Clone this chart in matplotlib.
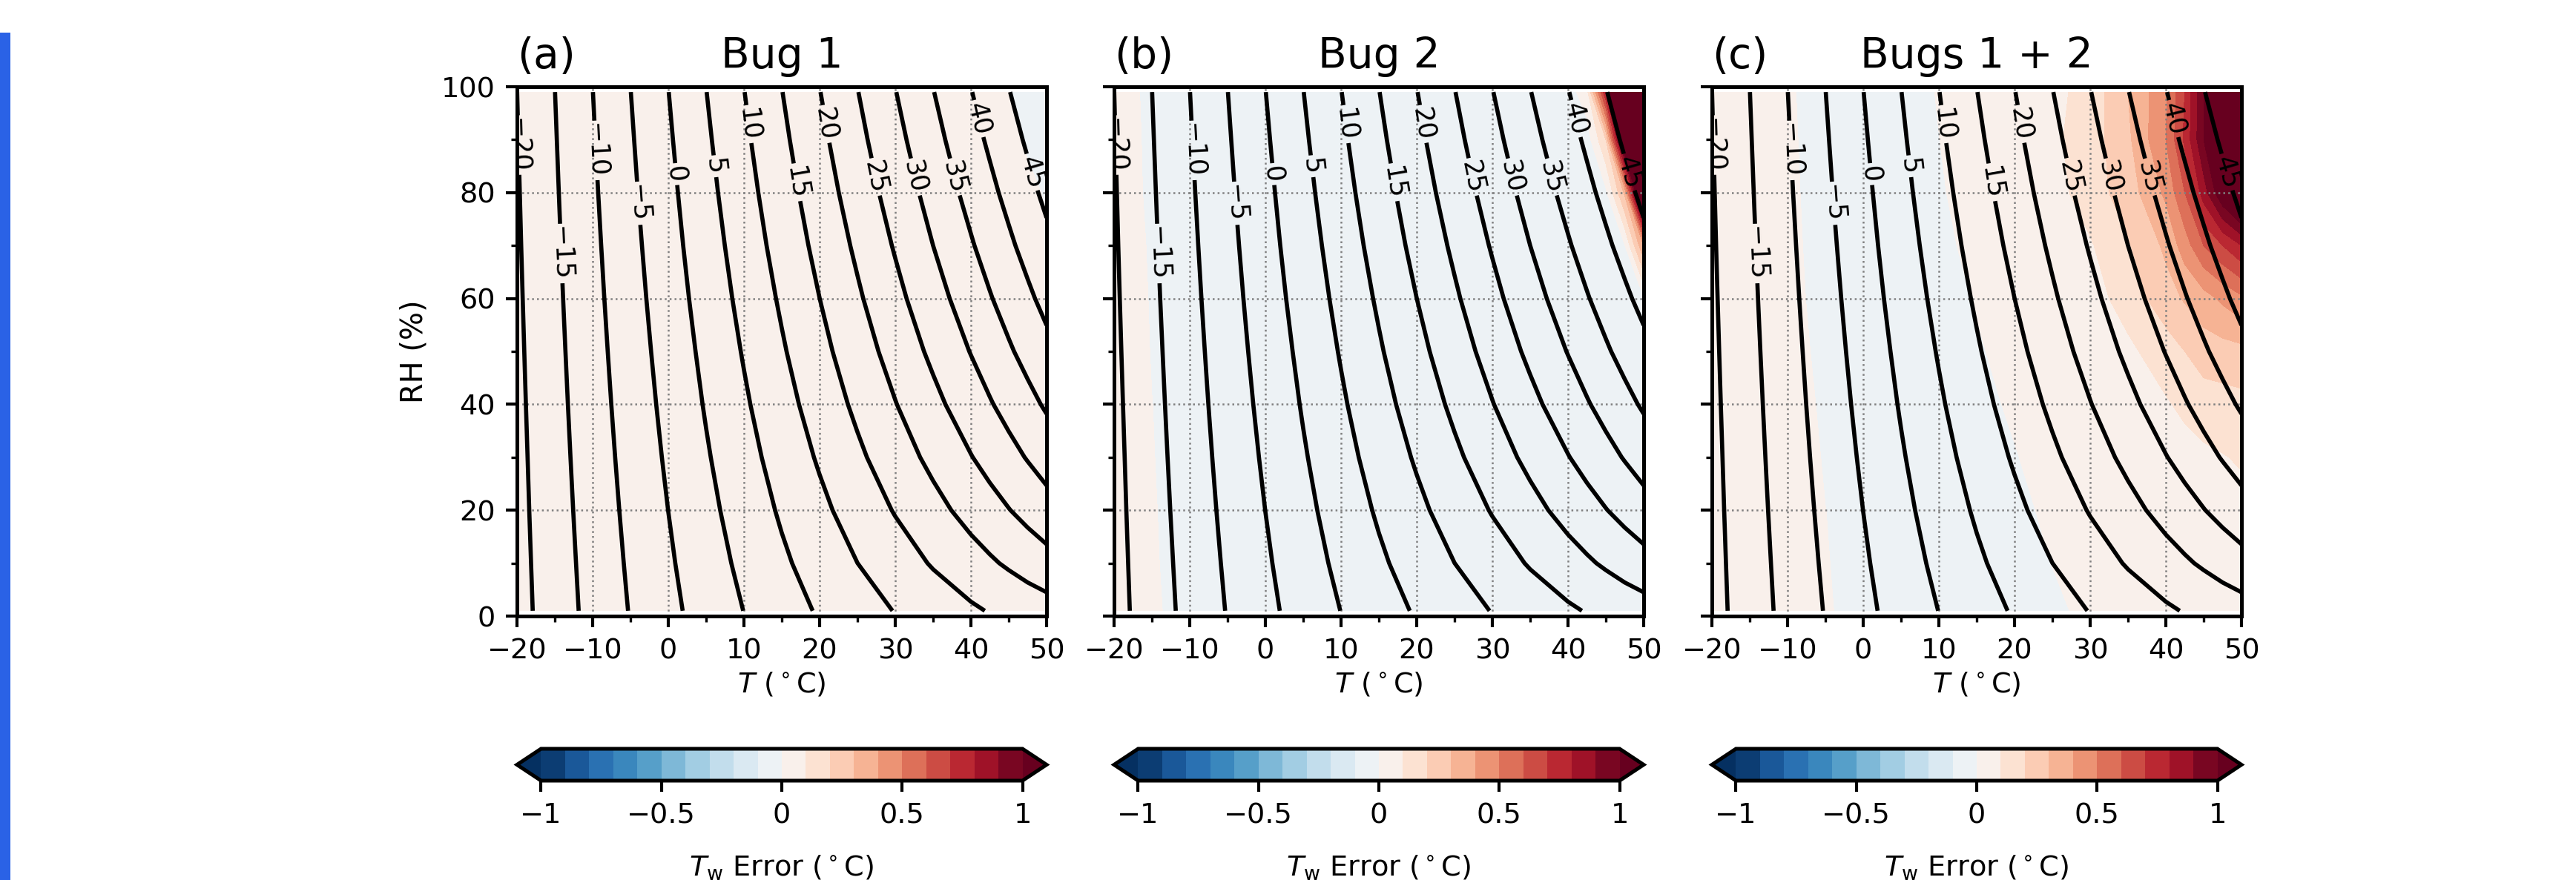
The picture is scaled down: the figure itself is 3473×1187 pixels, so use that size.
import numpy as np
import matplotlib
matplotlib.use('Agg')
from matplotlib import pyplot as plt
from matplotlib.patches import Rectangle
from matplotlib.ticker import MultipleLocator

# grid of the fields: air temperature (deg C) and relative humidity (%)
temp = [-20, -15, -10, -5, 0, 5, 10, 15, 20, 25, 30, 35, 40, 42.5, 45, 47.5, 50]
rh = [1, 10, 20, 30, 40, 50, 60, 70, 80, 90, 99]

# wet-bulb temperature (deg C), one row per RH value
tw = [
    [-21.76, -17.53, -13.52, -9.76, -6.24, -2.98, 0.06, 2.87, 5.48, 7.90, 10.17, 12.30, 14.28, 15.26, 16.15, 17.10, 17.92],
    [-21.60, -17.30, -13.20, -9.31, -5.64, -2.17, 1.09, 4.20, 7.14, 9.99, 12.72, 15.40, 18.05, 19.35, 20.66, 21.98, 23.27],
    [-21.42, -17.04, -12.84, -8.81, -4.98, -1.31, 2.21, 5.60, 8.89, 12.12, 15.30, 18.47, 21.66, 23.25, 24.85, 26.47, 28.11],
    [-21.25, -16.79, -12.47, -8.32, -4.32, -0.46, 3.29, 6.94, 10.54, 14.11, 17.66, 21.22, 24.82, 26.63, 28.46, 30.30, 32.15],
    [-21.07, -16.53, -12.11, -7.83, -3.67, 0.38, 4.34, 8.24, 12.11, 15.97, 19.83, 23.72, 27.64, 29.62, 31.61, 33.61, 35.62],
    [-20.89, -16.27, -11.76, -7.35, -3.04, 1.18, 5.35, 9.48, 13.59, 17.70, 21.83, 26.00, 30.18, 32.29, 34.40, 36.53, 38.66],
    [-20.71, -16.01, -11.40, -6.87, -2.41, 1.99, 6.34, 10.66, 14.99, 19.33, 23.69, 28.07, 32.47, 34.68, 36.90, 39.13, 41.37],
    [-20.53, -15.76, -11.05, -6.40, -1.79, 2.76, 7.29, 11.82, 16.33, 20.86, 25.41, 30.00, 34.57, 36.87, 39.18, 41.50, 43.83],
    [-20.36, -15.51, -10.70, -5.92, -1.20, 3.52, 8.22, 12.91, 17.61, 22.32, 27.03, 31.77, 36.51, 38.89, 41.27, 43.66, 46.06],
    [-20.18, -15.26, -10.35, -5.47, -0.60, 4.27, 9.11, 13.98, 18.82, 23.69, 28.55, 33.43, 38.31, 40.75, 43.19, 45.65, 48.10],
    [-20.02, -15.03, -10.04, -5.05, -0.06, 4.93, 9.91, 14.90, 19.88, 24.87, 29.86, 34.86, 39.83, 42.32, 44.82, 47.30, 49.81],
]

# Tw error (deg C) for each case, same grid
err_bug1 = [
    [0.05] * 17,
    [0.05] * 17,
    [0.05] * 17,
    [0.05] * 17,
    [0.05] * 17,
    [0.05] * 17,
    [0.05] * 17,
    [0.05] * 16 + [0.03],
    [0.05] * 16 + [-0.02],
    [0.05] * 15 + [-0.03, -0.05],
    [0.05] * 14 + [0.01, -0.05, -0.05],
]

err_bug2 = [
    [0.05, 0.025, -0.065] + [-0.05] * 14,
    [0.05, 0.018, -0.072] + [-0.05] * 14,
    [0.05, 0.013, -0.077] + [-0.05] * 14,
    [0.05, 0.007, -0.083] + [-0.05] * 14,
    [0.05, 0.001, -0.05] + [-0.05] * 14,
    [0.085, -0.005, -0.05] + [-0.05] * 14,
    [0.081, -0.009, -0.05] + [-0.05] * 13 + [-0.01],
    [0.076, -0.014, -0.05] + [-0.05] * 12 + [-0.005, 0.40],
    [0.068, -0.022, -0.05] + [-0.05] * 11 + [-0.02, 0.32, 1.5],
    [0.065, -0.025, -0.05] + [-0.05] * 11 + [0.20, 1.25, 2.5],
    [0.061, -0.029, -0.05] + [-0.05] * 10 + [0.06, 0.80, 2.1, 3.0],
]

err_both = [
    [0.05, 0.05, 0.05, 0.02, -0.07, -0.05, -0.05, -0.05, -0.05, -0.041, 0.049, 0.05, 0.05, 0.05, 0.05, 0.05, 0.05],
    [0.05, 0.05, 0.05, 0.011, -0.079, -0.05, -0.05, -0.05, -0.086, 0.004, 0.05, 0.05, 0.05, 0.05, 0.05, 0.05, 0.05],
    [0.05, 0.05, 0.05, 0.001, -0.05, -0.05, -0.05, -0.05, -0.05, 0.04, 0.05, 0.05, 0.05, 0.05, 0.05, 0.06, 0.07],
    [0.05, 0.05, 0.079, -0.011, -0.05, -0.05, -0.05, -0.05, -0.011, 0.079, 0.05, 0.05, 0.05, 0.065, 0.08, 0.095, 0.11],
    [0.05, 0.05, 0.067, -0.023, -0.05, -0.05, -0.05, -0.059, 0.031, 0.05, 0.05, 0.05, 0.09, 0.12, 0.15, 0.16, 0.17],
    [0.05, 0.05, 0.054, -0.036, -0.05, -0.05, -0.05, -0.022, 0.068, 0.05, 0.05, 0.08, 0.15, 0.20, 0.25, 0.26, 0.27],
    [0.05, 0.05, 0.043, -0.047, -0.05, -0.05, -0.076, 0.014, 0.05, 0.05, 0.06, 0.14, 0.26, 0.31, 0.36, 0.42, 0.48],
    [0.05, 0.05, 0.036, -0.054, -0.05, -0.05, -0.043, 0.047, 0.05, 0.05, 0.09, 0.19, 0.32, 0.45, 0.60, 0.70, 0.80],
    [0.05, 0.05, 0.03, -0.06, -0.05, -0.05, -0.018, 0.072, 0.05, 0.06, 0.15, 0.25, 0.42, 0.60, 0.85, 1.10, 1.30],
    [0.05, 0.05, 0.025, -0.065, -0.05, -0.05, -0.002, 0.088, 0.05, 0.08, 0.15, 0.28, 0.50, 0.72, 1.00, 1.50, 2.00],
    [0.05, 0.05, 0.02, -0.07, -0.05, -0.08, 0.01, 0.05, 0.05, 0.07, 0.14, 0.30, 0.48, 0.70, 1.00, 1.50, 2.00],
]

letters = ['(a)', '(b)', '(c)']
titles = ['Bug 1', 'Bug 2', 'Bugs 1 + 2']
tw_levels = [-20, -15, -10, -5, 0, 5, 10, 15, 20, 25, 30, 35, 40, 45]
# where the contour labels sit (T, RH)
label_pos = [(-19.4, 89), (-14.0, 68.5), (-9.2, 88), (-3.8, 78), (1.1, 83.5), (6.3, 85),
             (11.0, 93), (17.2, 82), (21.0, 93), (27.5, 83), (32.8, 83), (38.0, 83),
             (41.1, 94), (48.4, 84)]
err_levels = np.linspace(-1, 1, 21)
cbar_ticks = [-1, -0.5, 0, 0.5, 1]
cbar_ticklabels = ['\u22121', '\u22120.5', '0', '0.5', '1']

plt.rcParams['font.family'] = 'DejaVu Sans'
plt.rcParams['font.size'] = 9.2
plt.rcParams['axes.linewidth'] = 1.2
plt.rcParams['contour.negative_linestyle'] = 'solid'

W, H = 3473, 1187
fig = plt.figure(figsize=(W / 300, H / 300), dpi=300)

# blue bar at the left edge of the screenshot
fig.patches.append(Rectangle((0, 0), 14 / W, 1 - 44 / H, transform=fig.transFigure,
                             facecolor='#2a62e6', edgecolor='none'))

lefts = [697 / W, 1502 / W, 2308 / W]
ax_w = 714 / W
ax_b, ax_h = 1 - 831 / H, 714 / H
cb_b, cb_h = 1 - 1053 / H, 43 / H

fields = [err_bug1, err_bug2, err_both]


def fmt_level(v):
    return ('%d' % v).replace('-', '\u2212')


for i in range(3):
    ax = fig.add_axes([lefts[i], ax_b, ax_w, ax_h])
    cf = ax.contourf(temp, rh, fields[i], levels=err_levels, cmap='RdBu_r', extend='both')
    cs = ax.contour(temp, rh, tw, levels=tw_levels, colors='k', linewidths=1.35,
                    linestyles='solid')
    ax.clabel(cs, fmt=fmt_level, fontsize=8.4, manual=label_pos, inline=True, inline_spacing=4)

    ax.set_xlim(-20, 50)
    ax.set_ylim(0, 100)
    ax.xaxis.set_major_locator(MultipleLocator(10))
    ax.xaxis.set_minor_locator(MultipleLocator(5))
    ax.yaxis.set_major_locator(MultipleLocator(20))
    ax.yaxis.set_minor_locator(MultipleLocator(10))
    ax.tick_params(which='major', length=3.5, width=1.0, direction='out')
    ax.tick_params(which='minor', length=2.0, width=0.8, direction='out')
    ax.grid(True, which='major', linestyle=':', color='gray', linewidth=0.6)
    ax.set_xlabel(r'$T$ ($^\circ$C)', labelpad=2)
    if i == 0:
        ax.set_ylabel('RH (%)', fontsize=9.6)
    else:
        ax.set_yticklabels([])
    ax.set_title(letters[i], loc='left', fontsize=13.6, pad=6)
    ax.set_title(titles[i], loc='center', fontsize=13.6, pad=6)

    cax = fig.add_axes([lefts[i], cb_b, ax_w, cb_h])
    cb = fig.colorbar(cf, cax=cax, orientation='horizontal', ticks=cbar_ticks)
    cb.set_ticklabels(cbar_ticklabels)
    cb.outline.set_linewidth(1.2)
    cb.ax.tick_params(length=3.5, width=1.0)
    cb.set_label(r'$T_\mathrm{w}$ Error ($^\circ$C)', labelpad=8)

fig.savefig('out.png', dpi=300, facecolor='white')
